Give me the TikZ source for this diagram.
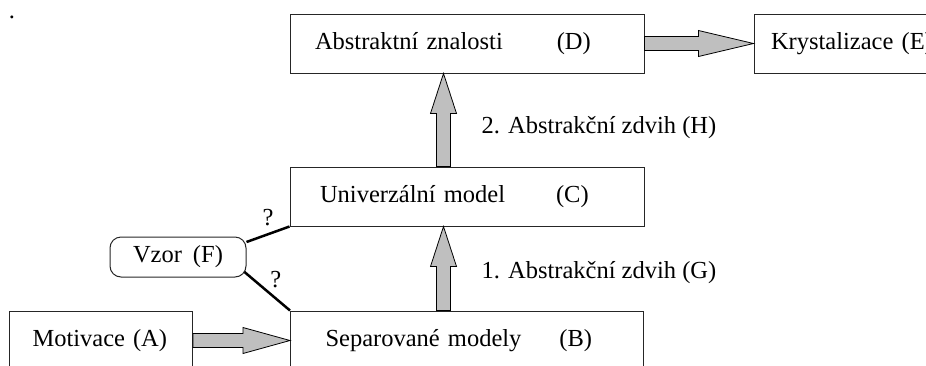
\documentclass[tikz,border=0pt]{standalone}
\usepackage{fontspec}
\setmainfont{Liberation Serif}
\usetikzlibrary{positioning,calc}
\tikzset{
    stagebox/.style={
        rectangle,                % caja simple
        draw=black!85,            % borde fino gris oscuro
        line width=1pt,
        minimum height=59pt,      % todas las cajas con la misma altura
        inner ysep=0pt,
        align=left,               % texto desde la izquierda
        font=\fontsize{24.5}{29}\selectfont
    },
    patternbox/.style={
        rectangle,
        rounded corners=11pt,     % caja redondeada para el vzor
        draw=black!85,
        line width=1pt,
        minimum width=136pt,
        minimum height=40pt,
        font=\fontsize{24.5}{29}\selectfont
    },
    fatarrow/.style={
        fill=gray!50,             % relleno gris claro
        draw=black,               % contorno negro
        line width=0.8pt,
        line join=miter
    },
    guess/.style={
        line width=2.5pt          % lineas gruesas hacia el vzor
    },
    steplabel/.style={
        anchor=west,
        font=\fontsize{24.5}{29}\selectfont
    }
}
% flecha gruesa: desde, hasta, largo de la punta
\newcommand{\fatarrow}[3]{%
    \coordinate (fa-h) at ($(#2)!#3!(#1)$);
    \filldraw[fatarrow] ($(#1)!7pt!90:(#2)$) -- ($(fa-h)!7pt!-90:(#1)$)
        -- ($(fa-h)!13pt!-90:(#1)$) -- (#2) -- ($(fa-h)!13pt!90:(#1)$)
        -- ($(fa-h)!7pt!90:(#1)$) -- ($(#1)!7pt!-90:(#2)$) -- cycle;
}
\begin{document}
\begin{tikzpicture}[x=1pt,y=-1pt]
    \useasboundingbox (0,0) rectangle (926,365);
    \node[anchor=base, inner sep=0pt, font=\fontsize{24.5}{29}\selectfont] (dot) at (12,18) {.};

    \node[stagebox, inner xsep=25pt, text width=304pt] (know) at (467,43.5) {Abstraktní znalosti\hspace{54pt}(D)};
    \node[stagebox, inner xsep=17pt, text width=165pt, right=109pt of know] (cryst) {Krystalizace (E)};
    \node[stagebox, inner xsep=30pt, text width=294pt, below=93pt of know] (univ) {Univerzální model\hspace{51pt}(C)};
    \node[stagebox, inner xsep=35pt, text width=283pt, below=84pt of univ] (sep) {Separované modely\hspace{38pt}(B)};
    \node[stagebox, inner xsep=23pt, text width=137pt, left=97pt of sep] (motiv) {Motivace\hspace{8pt}(A)};
    \node[patternbox] (vzor) at (178,257) {Vzor\hspace{11pt}(F)};

    \coordinate (g-from) at ([xshift=-23.5pt]sep.north);
    \coordinate (g-to) at ([xshift=-23.5pt]univ.south);
    \coordinate (h-from) at ([xshift=-23.5pt]univ.north);
    \coordinate (h-to) at ([xshift=-23.5pt]know.south);

    \fatarrow{motiv.east}{sep.west}{47pt}
    \fatarrow{know.east}{cryst.west}{55pt}
    \fatarrow{g-from}{g-to}{40pt}
    \fatarrow{h-from}{h-to}{40pt}

    \node[steplabel] (g) at (478,273) {1. Abstrakční zdvih (G)};
    \node[steplabel] (h) at (478,128) {2. Abstrakční zdvih (H)};

    \draw[guess] ([yshift=15pt]vzor.east) -- node[above=4pt, font=\fontsize{24.5}{29}\selectfont] {?} (univ.south west);
    \draw[guess] ([xshift=-2pt,yshift=-15pt]vzor.east) -- node[above right=-2pt, font=\fontsize{24.5}{29}\selectfont] {?} (sep.north west);
\end{tikzpicture}
\end{document}
